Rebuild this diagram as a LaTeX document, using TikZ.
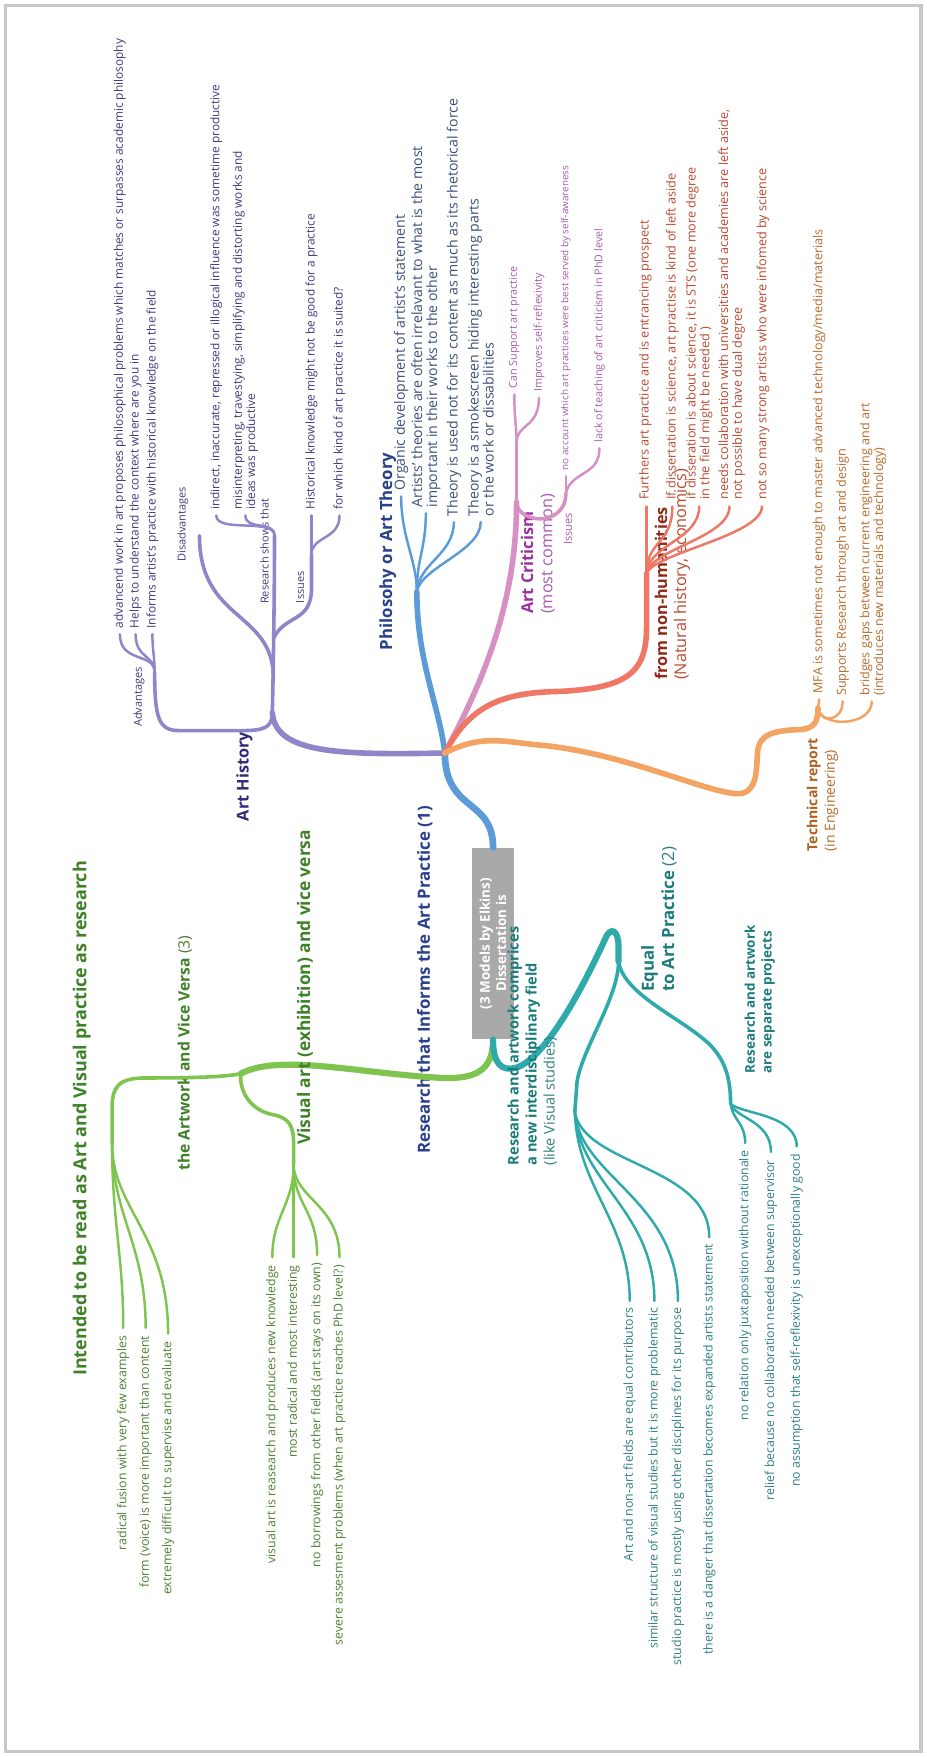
\documentclass[tikz,border=0pt]{standalone}
\usepackage{fontspec}
\setmainfont{Open Sans}
\definecolor{cPur}{HTML}{8E86C8}
\definecolor{cPurT}{HTML}{2E2C78}
\definecolor{cPurL}{HTML}{3E3B80}
\definecolor{cBlu}{HTML}{5A9BD8}
\definecolor{cBluT}{HTML}{27418A}
\definecolor{cBluL}{HTML}{3A4F7A}
\definecolor{cPnk}{HTML}{D690C4}
\definecolor{cPnkT}{HTML}{9B2F9E}
\definecolor{cPnkL}{HTML}{A85AAE}
\definecolor{cRed}{HTML}{EE7766}
\definecolor{cRedT}{HTML}{8E2A17}
\definecolor{cRedL}{HTML}{B84A30}
\definecolor{cOra}{HTML}{F3A462}
\definecolor{cOraT}{HTML}{B0601E}
\definecolor{cOraL}{HTML}{B86A2A}
\definecolor{cGrn}{HTML}{80C450}
\definecolor{cGrnT}{HTML}{3F8128}
\definecolor{cGrnL}{HTML}{4F7F35}
\definecolor{cTea}{HTML}{2EAAAA}
\definecolor{cTeaT}{HTML}{1C7C7C}
\definecolor{cTeaL}{HTML}{2F8080}
\definecolor{cTitle}{HTML}{2C3F8C}
\definecolor{cBox}{HTML}{A9A9A9}
\definecolor{cFrame}{HTML}{C8C8C8}
\tikzset{
  brPu/.style={draw=cPur, line cap=round},
  brBl/.style={draw=cBlu, line cap=round},
  brPk/.style={draw=cPnk, line cap=round},
  brRd/.style={draw=cRed, line cap=round},
  brOr/.style={draw=cOra, line cap=round},
  brGr/.style={draw=cGrn, line cap=round},
  brTe/.style={draw=cTea, line cap=round},
  trunk/.style={line width=5pt},
  sub/.style={line width=3.2pt},
  twig/.style={line width=2.2pt},
  upleaf/.style={rotate=90, anchor=west, align=left, inner sep=0pt, font=\fontsize{12.6}{13.4}\selectfont},
  upleafS/.style={rotate=90, anchor=west, align=left, inner sep=0pt, font=\fontsize{10.6}{11.8}\selectfont},
  upleafP/.style={rotate=90, anchor=west, align=left, inner sep=0pt, font=\fontsize{9.6}{11}\selectfont},
  dnleaf/.style={rotate=90, anchor=east, align=right, inner sep=0pt, font=\fontsize{11}{12.5}\selectfont},
  lblMinor/.style={rotate=90, inner sep=0pt, font=\fontsize{9.8}{11}\selectfont},
  lblMajor/.style={rotate=90, inner sep=0pt, font=\bfseries\fontsize{14.5}{17}\selectfont},
  dbox/.style={rotate=90, fill=cBox, text=white, align=center, inner sep=2pt, minimum width=171pt, minimum height=37pt, font=\bfseries\fontsize{12}{14.5}\selectfont},
}
\begin{document}
\begin{tikzpicture}[x=1pt,y=-1pt]
\useasboundingbox (0,0) rectangle (827,1568);
\draw[cFrame, line width=3pt] (5,5) rectangle (822,1563);

% ---------------- centre
\coordinate (H) at (397,672);
\node[dbox] (box) at (440,842) {(3 Models by Elkins)\\Dissertation is};
\draw[brBl, line width=6pt] (H) .. controls (397,725) and (440,712) .. (box.east);
\node[lblMajor, anchor=west, text=cTitle, font=\bfseries\fontsize{15}{18}\selectfont] (title) at (379,1030) {Research that Informs the Art Practice (1)};

% ---------------- purple : Art History
\coordinate (AHJ) at (243,636);
\draw[brPu, trunk] (H) .. controls (300,674) and (246,672) .. (AHJ);
\node[lblMajor, text=cPurT] (arthist) at (218,693) {Art History};
\coordinate (ADF) at (138,600);
\draw[brPu, sub] (AHJ) .. controls (243,650) and (235,652) .. (215,652) -- (160,652) .. controls (142,652) and (138,642) .. (ADF);
\node[lblMinor, text=cPurL] (adv) at (124,622) {Advantages};
\coordinate (ad1) at (107,566);
\coordinate (ad2) at (121,566);
\coordinate (ad3) at (136,566);
\draw[brPu, twig] (ADF) .. controls (138,582) and (107,592) .. (ad1);
\draw[brPu, twig] (ADF) .. controls (138,584) and (121,588) .. (ad2);
\draw[brPu, twig] (ADF) .. controls (138,586) and (136,580) .. (ad3);
\node[upleafS, text=cPurL] (tad1) at (107,561) {advancend work in art proposes philosophical problems which matches or surpasses academic philosophy};
\node[upleafS, text=cPurL] (tad2) at (121,561) {Helps to understand the context where are you in};
\node[upleafS, text=cPurL] (tad3) at (136,561) {Informs artist's practice with historical knowledge on the field};

\coordinate (RSJ) at (245,478);
\draw[brPu, sub] (AHJ) .. controls (244,600) and (245,520) .. (RSJ);
\node[lblMinor, text=cPurL] (rsl) at (236,492) {Research shows that};
\coordinate (DIS) at (178,478);
\draw[brPu, sub] (244,605) .. controls (244,545) and (178,555) .. (DIS);
\node[lblMinor, text=cPurL] (disl) at (163,468) {Disadvantages};
\coordinate (rs1) at (193,460);
\coordinate (rs2) at (219,460);
\draw[brPu, twig] (RSJ) .. controls (245,462) and (193,476) .. (rs1);
\draw[brPu, twig] (RSJ) .. controls (245,464) and (219,474) .. (rs2);
\node[upleafS, text=cPurL] (trs1) at (193,455) {indirect, inaccurate, repressed or illogical influence was sometime productive};
\node[upleafS, text=cPurL] (trs2) at (219,455) {misinterpreting, travestying, simplifying and distorting works and\\ideas was productive};
\coordinate (ISJ) at (278,495);
\draw[brPu, sub] (244,570) .. controls (254,548) and (278,556) .. (278,525) -- (ISJ);
\node[lblMinor, text=cPurL] (issl) at (268,524) {Issues};
\coordinate (is1) at (278,460);
\coordinate (is2) at (303,460);
\draw[brPu, twig] (ISJ) -- (is1);
\draw[brPu, twig] (ISJ) .. controls (278,478) and (303,482) .. (is2);
\node[upleafS, text=cPurL] (tis1) at (278,455) {Historical knowledge might not be good for a practice};
\node[upleafS, text=cPurL] (tis2) at (303,455) {for which kind of art practice it is suited?};

% ---------------- blue : Philosophy
\coordinate (PJ) at (372,528);
\draw[brBl, trunk] (H) .. controls (392,630) and (372,590) .. (PJ);
\node[lblMajor, text=cBluT, font=\bfseries\fontsize{15}{18}\selectfont] (phil) at (346,492) {Philosohy or Art Theory};
\coordinate (p1) at (358,443);
\coordinate (p2) at (380,458);
\coordinate (p3) at (405,466);
\coordinate (p4) at (429,466);
\draw[brBl, twig] (PJ) .. controls (372,500) and (358,480) .. (p1);
\draw[brBl, twig] (PJ) .. controls (372,498) and (380,490) .. (p2);
\draw[brBl, twig] (PJ) .. controls (374,502) and (405,495) .. (p3);
\draw[brBl, twig] (PJ) .. controls (376,506) and (429,492) .. (p4);
\node[upleaf, text=cBluL] (tp1) at (358,438) {Organic development of artist's statement};
\node[upleaf, text=cBluL] (tp2) at (380,453) {Artists' theories are often irrelavant to what is the most\\important in their works to the other};
\node[upleaf, text=cBluL] (tp3) at (405,461) {Theory is used not for its content as much as its rhetorical force};
\node[upleaf, text=cBluL] (tp4) at (429,461) {Theory is a smokescreen hiding interesting parts\\or the work or dissabilities};

% ---------------- pink : Art Criticism
\coordinate (CJ) at (461,448);
\draw[brPk, trunk] (H) .. controls (430,610) and (461,540) .. (CJ);
\node[lblMajor, anchor=west, align=left, text=cPnkT] (crit) at (480,548) {Art Criticism\\{\mdseries\color{cPnkL}(most common)}};
\coordinate (CF) at (461,395);
\draw[brPk, sub] (CJ) -- (CF);
\coordinate (c1) at (459,352);
\coordinate (c2) at (481,355);
\draw[brPk, twig] (CF) .. controls (461,380) and (459,375) .. (c1);
\draw[brPk, twig] (CF) .. controls (461,378) and (481,382) .. (c2);
\node[upleafP, text=cPnkL] (tc1) at (459,347) {Can Support art practice};
\node[upleafP, text=cPnkL] (tc2) at (481,350) {Improves self-reflexivity};
\coordinate (CIJ) at (505,440);
\draw[brPk, sub] (CJ) .. controls (461,462) and (485,468) .. (497,458) .. controls (504,452) and (505,446) .. (CIJ);
\node[lblMinor, text=cPnkL] (cissl) at (507,472) {Issues};
\coordinate (ci1) at (505,425);
\coordinate (ci2) at (535,400);
\draw[brPk, twig] (CIJ) -- (ci1);
\draw[brPk, twig] (CIJ) .. controls (510,420) and (535,425) .. (ci2);
\node[upleafP, text=cPnkL, font=\fontsize{8.8}{10}\selectfont] (tci1) at (505,420) {no account which art practices were best served by self-awareness};
\node[upleafP, text=cPnkL] (tci2) at (535,395) {lack of teaching of art criticism in PhD level};

% ---------------- red : non-humanities
\coordinate (RF) at (577,512);
\draw[brRd, trunk] (H) .. controls (420,628) and (450,618) .. (500,617) .. controls (560,614) and (577,600) .. (577,560) -- (RF);
\node[lblMajor, anchor=west, align=left, text=cRedT] (nonhum) at (600,607) {from non-humanities\\{\mdseries\color{cRedL}(Natural history, economics)}};
\coordinate (r1) at (577,452);
\coordinate (r2) at (600,452);
\coordinate (r3) at (624,452);
\coordinate (r4) at (651,452);
\coordinate (r5) at (680,452);
\draw[brRd, twig] (RF) -- (r1);
\draw[brRd, twig] (RF) .. controls (577,482) and (600,486) .. (r2);
\draw[brRd, twig] (RF) .. controls (578,486) and (624,482) .. (r3);
\draw[brRd, twig] (RF) .. controls (580,490) and (651,480) .. (r4);
\draw[brRd, twig] (RF) .. controls (582,494) and (680,478) .. (r5);
\node[upleaf, text=cRedL, font=\fontsize{11.3}{12.3}\selectfont] (tr1) at (576,446) {Furthers art practice and is entrancing prospect};
\node[upleaf, text=cRedL, font=\fontsize{11.3}{12.3}\selectfont] (tr2) at (600,446) {If dissertation is science, art practise is kind of left aside};
\node[upleaf, text=cRedL, font=\fontsize{11.3}{12.3}\selectfont] (tr3) at (624,446) {if disseration is about science, it is STS (one more degree\\in the field might be needed )};
\node[upleaf, text=cRedL, font=\fontsize{11.3}{12.3}\selectfont] (tr4) at (653,446) {needs collaboration with universities and academies are left aside,\\not possible to have dual degree};
\node[upleaf, text=cRedL, font=\fontsize{11.3}{12.3}\selectfont] (tr5) at (681,446) {not so many strong artists who were infomed by science};

% ---------------- orange : Technical report
\coordinate (TF) at (730,632);
\draw[brOr, trunk] (H) .. controls (430,655) and (450,662) .. (482,665) .. controls (560,672) and (640,712) .. (662,708) .. controls (675,705) and (675,690) .. (676,672) .. controls (677,655) and (690,652) .. (715,651) .. controls (728,650) and (730,642) .. (TF);
\node[lblMajor, anchor=west, align=left, text=cOraT, font=\bfseries\fontsize{12.5}{15.5}\selectfont] (tech) at (734,760) {Technical report\\{\mdseries\color{cOraL}(in Engineering)}};
\coordinate (o1) at (731,624);
\coordinate (o2) at (752,626);
\coordinate (o3) at (778,626);
\draw[brOr, twig] (TF) -- (o1);
\draw[brOr, twig] (TF) .. controls (731,645) and (752,645) .. (o2);
\draw[brOr, twig] (TF) .. controls (733,650) and (778,648) .. (o3);
\node[upleaf, text=cOraL, font=\fontsize{11.2}{12.3}\selectfont] (to1) at (731,619) {MFA is sometimes not enough to master advanced technology/media/materials};
\node[upleaf, text=cOraL, font=\fontsize{11.2}{12.3}\selectfont] (to2) at (752,621) {Supports Research through art and design};
\node[upleaf, text=cOraL, font=\fontsize{11.2}{12.3}\selectfont] (to3) at (779,621) {bridges gaps between current engineering and art\\(introduces new materials and technology)};

% ---------------- green : Artwork and vice versa
\coordinate (GJ) at (215,958);
\draw[brGr, line width=5.5pt] (box.west) .. controls (440,955) and (425,963) .. (395,962) .. controls (320,958) and (250,940) .. (GJ);
\node[lblMajor, anchor=west, text=cGrnT, font=\bfseries\fontsize{14}{17}\selectfont] (artwork) at (165,1045) {the Artwork and Vice Versa {\mdseries\color{cGrnL}(3)}};
\coordinate (IF) at (100,1020);
\draw[brGr, sub] (GJ) .. controls (200,962) and (150,962) .. (130,962) .. controls (105,962) and (100,970) .. (100,990) -- (IF);
\node[lblMajor, anchor=west, text=cGrnT, font=\bfseries\fontsize{16}{19}\selectfont] (intended) at (73,1228) {Intended to be read as Art and Visual practice as research};
\coordinate (g1) at (110,1185);
\coordinate (g2) at (130,1185);
\coordinate (g3) at (150,1190);
\draw[brGr, twig] (IF) .. controls (100,1090) and (110,1120) .. (g1);
\draw[brGr, twig] (IF) .. controls (100,1085) and (130,1110) .. (g2);
\draw[brGr, twig] (IF) .. controls (100,1080) and (150,1100) .. (g3);
\node[dnleaf, text=cGrnL] (tg1) at (110,1192) {radical fusion with very few examples};
\node[dnleaf, text=cGrnL] (tg2) at (130,1192) {form (voice) is more important than content};
\node[dnleaf, text=cGrnL] (tg3) at (150,1197) {extremely difficult to supervise and evaluate};
\coordinate (VF) at (262,1040);
\draw[brGr, sub] (GJ) .. controls (213,975) and (225,992) .. (245,995) .. controls (258,998) and (262,1005) .. (262,1020) -- (VF);
\node[lblMajor, anchor=west, text=cGrnT, font=\bfseries\fontsize{15.5}{18}\selectfont] (visual) at (272,1022) {Visual art (exhibition) and vice versa};
\coordinate (v1) at (243,1122);
\coordinate (v2) at (262,1122);
\coordinate (v3) at (283,1120);
\coordinate (v4) at (303,1122);
\draw[brGr, twig] (VF) .. controls (262,1075) and (243,1085) .. (v1);
\draw[brGr, twig] (VF) -- (v2);
\draw[brGr, twig] (VF) .. controls (262,1075) and (283,1080) .. (v3);
\draw[brGr, twig] (VF) .. controls (263,1070) and (303,1075) .. (v4);
\node[dnleaf, text=cGrnL] (tv1) at (243,1129) {visual art is reasearch and produces new knowledge};
\node[dnleaf, text=cGrnL] (tv2) at (262,1129) {most radical and most interesting};
\node[dnleaf, text=cGrnL] (tv3) at (283,1127) {no borrowings from other fields (art stays on its own)};
\node[dnleaf, text=cGrnL] (tv4) at (303,1129) {severe assesment problems (when art practice reaches PhD level?)};

% ---------------- teal : Equal to art practice
\coordinate (TJ) at (552,858);
\draw[brTe, line width=5.5pt] (box.west) .. controls (440,950) and (448,956) .. (460,953) .. controls (490,945) and (530,860) .. (540,838) .. controls (545,826) and (552,830) .. (552,845) -- (TJ);
\node[lblMajor, anchor=west, align=left, text=cTeaT, font=\bfseries\fontsize{15}{18}\selectfont] (equal) at (588,885) {Equal\\to Art Practice {\mdseries\color{cTeaL}(2)}};
\coordinate (IDF) at (513,992);
\draw[brTe, sub] (TJ) .. controls (552,890) and (520,935) .. (515,965) -- (IDF);
\node[lblMajor, anchor=west, align=left, text=cTeaT, font=\bfseries\fontsize{13}{16}\selectfont] (interd) at (475,1040) {Research and artwork comprices\\a new interdisciplinary field\\{\mdseries\color{cTeaL}(like Visual studies)}};
\coordinate (e1) at (562,1161);
\coordinate (e2) at (584,1161);
\coordinate (e3) at (605,1161);
\coordinate (e4) at (633,1104);
\draw[brTe, twig] (IDF) .. controls (515,1060) and (562,1090) .. (e1);
\draw[brTe, twig] (IDF) .. controls (516,1055) and (584,1080) .. (e2);
\draw[brTe, twig] (IDF) .. controls (517,1050) and (605,1070) .. (e3);
\draw[brTe, twig] (IDF) .. controls (520,1040) and (633,1040) .. (e4);
\node[dnleaf, text=cTeaL] (te1) at (562,1167) {Art and non-art fields are equal contributors};
\node[dnleaf, text=cTeaL] (te2) at (584,1167) {similar structure of visual studies but it is more problematic};
\node[dnleaf, text=cTeaL] (te3) at (605,1167) {studio practice is mostly using other disciplines for its purpose};
\node[dnleaf, text=cTeaL] (te4) at (633,1110) {there is a danger that dissertation becomes expanded artists statement};
\coordinate (SJ) at (652,985);
\draw[brTe, sub] (TJ) .. controls (556,885) and (600,905) .. (625,925) .. controls (645,940) and (652,958) .. (SJ);
\node[lblMajor, anchor=west, align=left, text=cTeaT, font=\bfseries\fontsize{12}{15}\selectfont] (separate) at (678,958) {Research and artwork\\are separate projects};
\coordinate (s1) at (665,1020);
\coordinate (s2) at (688,1028);
\coordinate (s3) at (711,1023);
\draw[brTe, twig] (SJ) .. controls (654,1000) and (665,1002) .. (s1);
\draw[brTe, twig] (SJ) .. controls (656,998) and (688,1000) .. (s2);
\draw[brTe, twig] (SJ) .. controls (660,994) and (711,994) .. (s3);
\node[dnleaf, text=cTeaL] (ts1) at (665,1027) {no relation only juxtaposition without rationale};
\node[dnleaf, text=cTeaL] (ts2) at (688,1035) {relief because no collaboration needed between supervisor};
\node[dnleaf, text=cTeaL] (ts3) at (711,1030) {no assumption that self-reflexivity is unexceptionally good};
\end{tikzpicture}
\end{document}
